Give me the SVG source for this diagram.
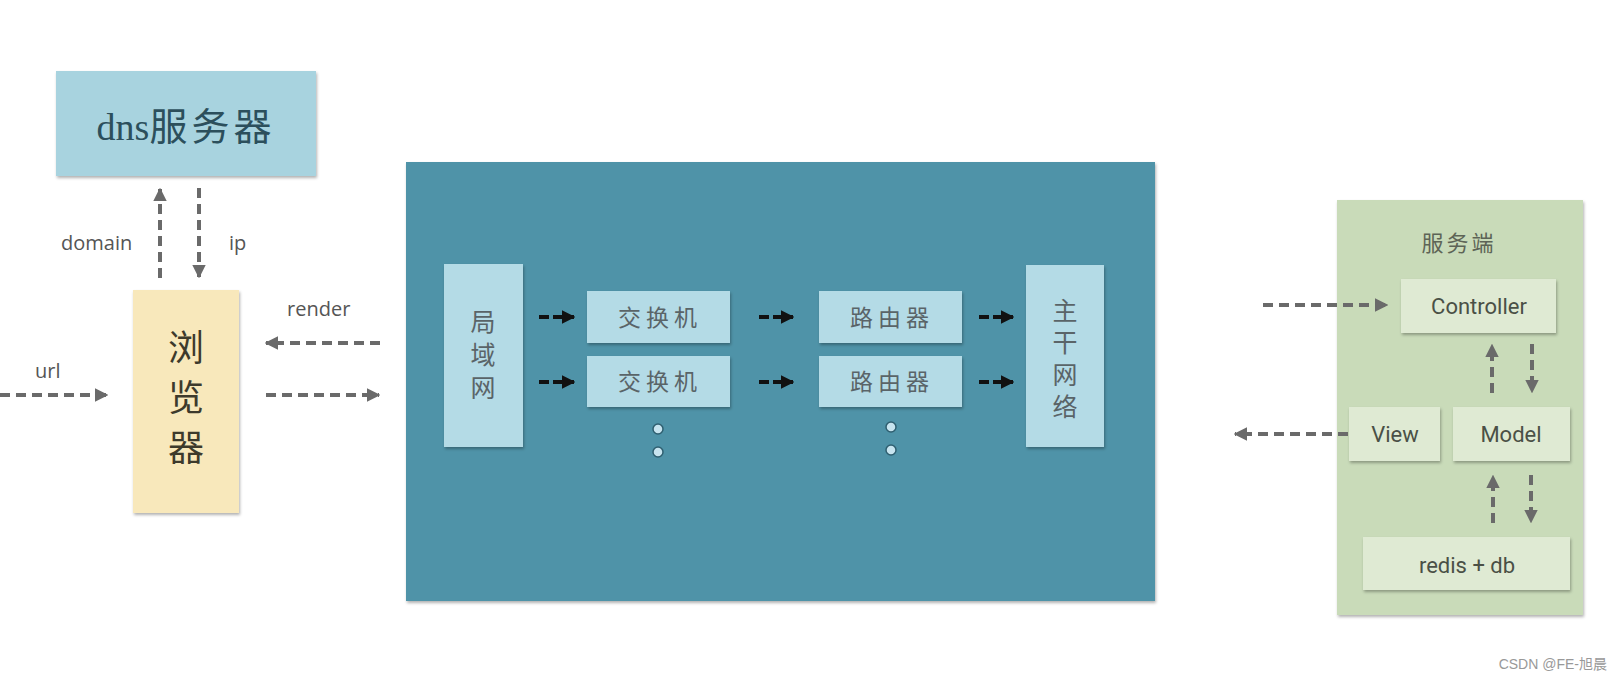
<svg xmlns="http://www.w3.org/2000/svg" width="1622" height="680" viewBox="0 0 1622 680">
<defs>
<filter id="sh" x="-10%" y="-10%" width="130%" height="130%">
<feDropShadow dx="1" dy="2" stdDeviation="1.5" flood-color="#000" flood-opacity="0.3"/>
</filter>
<marker id="ga" viewBox="0 0 10 10" refX="9" refY="5" markerWidth="3.4" markerHeight="3.4" orient="auto" markerUnits="strokeWidth">
<path d="M0,0 L10,5 L0,10 Z" fill="#6a6a6a"/>
</marker>
<marker id="ka" viewBox="0 0 10 10" refX="9" refY="5" markerWidth="3.4" markerHeight="3.4" orient="auto" markerUnits="strokeWidth">
<path d="M0,0 L10,5 L0,10 Z" fill="#111"/>
</marker>
</defs>
<style>
.g{stroke:#6a6a6a;stroke-width:4;fill:none;stroke-dasharray:10 6;marker-end:url(#ga)}
.k{stroke:#111;stroke-width:4;fill:none}
.ka{stroke:#111;stroke-width:4;fill:none;marker-end:url(#ka)}
.lbl{font-family:"Open Sans","Liberation Sans",sans-serif;font-size:20px;fill:#555}
.cn{font-family:"Noto Sans CJK SC",sans-serif;fill:#5a6468}
.vt{writing-mode:vertical-rl;text-anchor:middle}
.pb{fill:#b4dbe6}
.gb{fill:#dfead3}
.en{font-family:"Roboto","Liberation Sans",sans-serif;font-size:22px;fill:#4a5046}
.dot{fill:#c7e4ef;stroke:#2f5f70;stroke-width:1.5}
</style>
<rect width="1622" height="680" fill="#ffffff"/>

<g id="dns">
<rect x="56" y="71" width="260" height="105" fill="#a8d3df" filter="url(#sh)"/>
<text x="186" y="140" text-anchor="middle" font-size="38" fill="#2c4f5c"><tspan font-family="Liberation Serif,serif">dns</tspan><tspan font-family="Noto Sans CJK SC,sans-serif" letter-spacing="4">服务器</tspan></text>
</g>

<g id="browser">
<rect x="133" y="290" width="106" height="223" fill="#f8e8bb" filter="url(#sh)"/>
<text class="cn vt" x="186" y="404" font-size="36" letter-spacing="14" style="fill:#3d3a2c">浏览器</text>
</g>

<g id="network">
<rect x="406" y="162" width="749" height="439" fill="#4f93a8" filter="url(#sh)"/>
</g>

<g id="lan">
<rect x="444" y="264" width="79" height="183" class="pb" filter="url(#sh)"/>
<text class="cn vt" x="483" y="358" font-size="25" letter-spacing="8">局域网</text>
</g>

<g id="switch1">
<rect x="587" y="291" width="143" height="52" class="pb" filter="url(#sh)"/>
<text class="cn" x="660" y="326" font-size="23" text-anchor="middle" letter-spacing="5">交换机</text>
</g>
<g id="switch2">
<rect x="587" y="356" width="143" height="51" class="pb" filter="url(#sh)"/>
<text class="cn" x="660" y="390" font-size="23" text-anchor="middle" letter-spacing="5">交换机</text>
</g>

<g id="router1">
<rect x="819" y="291" width="143" height="52" class="pb" filter="url(#sh)"/>
<text class="cn" x="892" y="326" font-size="23" text-anchor="middle" letter-spacing="5">路由器</text>
</g>
<g id="router2">
<rect x="819" y="356" width="143" height="51" class="pb" filter="url(#sh)"/>
<text class="cn" x="892" y="390" font-size="23" text-anchor="middle" letter-spacing="5">路由器</text>
</g>

<g id="backbone">
<rect x="1026" y="265" width="78" height="182" class="pb" filter="url(#sh)"/>
<text class="cn vt" x="1065" y="362" font-size="25" letter-spacing="7">主干网络</text>
</g>

<g id="dots">
<circle class="dot" cx="658" cy="429" r="5"/>
<circle class="dot" cx="658" cy="452" r="5"/>
<circle class="dot" cx="891" cy="427" r="5"/>
<circle class="dot" cx="891" cy="450" r="5"/>
</g>

<g id="server">
<rect x="1337" y="200" width="246" height="415" fill="#c9dbb9" filter="url(#sh)"/>
<text class="cn" x="1459" y="251" font-size="22" text-anchor="middle" letter-spacing="3" style="fill:#5d6456">服务端</text>
</g>
<g id="controller">
<rect x="1401" y="279" width="155" height="54" class="gb" filter="url(#sh)"/>
<text class="en" x="1479" y="314" text-anchor="middle">Controller</text>
</g>
<g id="view">
<rect x="1349" y="407" width="91" height="54" class="gb" filter="url(#sh)"/>
<text class="en" x="1395" y="442" text-anchor="middle">View</text>
</g>
<g id="model">
<rect x="1453" y="407" width="117" height="54" class="gb" filter="url(#sh)"/>
<text class="en" x="1511" y="442" text-anchor="middle">Model</text>
</g>
<g id="redis">
<rect x="1363" y="537" width="207" height="53" class="gb" filter="url(#sh)"/>
<text class="en" x="1467" y="573" text-anchor="middle">redis + db</text>
</g>

<g id="connectors">
<line class="g" x1="160" y1="278" x2="160" y2="189"/>
<line class="g" x1="199" y1="188" x2="199" y2="277"/>
<line class="g" x1="380" y1="343" x2="266" y2="343"/>
<line class="g" x1="0" y1="395" x2="107" y2="395"/>
<line class="g" x1="266" y1="395" x2="379" y2="395"/>
<line class="g" x1="1263" y1="305" x2="1387" y2="305"/>
<line class="g" x1="1348" y1="434" x2="1235" y2="434"/>
<line class="g" x1="1492" y1="393" x2="1492" y2="345"/>
<line class="g" x1="1532" y1="344" x2="1532" y2="392"/>
<line class="g" x1="1493" y1="523" x2="1493" y2="476"/>
<line class="g" x1="1531" y1="475" x2="1531" y2="522"/>

<line class="k" x1="539" y1="317" x2="549" y2="317"/><line class="ka" x1="553" y1="317" x2="574" y2="317"/>
<line class="k" x1="539" y1="382" x2="549" y2="382"/><line class="ka" x1="553" y1="382" x2="574" y2="382"/>
<line class="k" x1="759" y1="317" x2="769" y2="317"/><line class="ka" x1="773" y1="317" x2="793" y2="317"/>
<line class="k" x1="759" y1="382" x2="769" y2="382"/><line class="ka" x1="773" y1="382" x2="793" y2="382"/>
<line class="k" x1="979" y1="317" x2="989" y2="317"/><line class="ka" x1="993" y1="317" x2="1013" y2="317"/>
<line class="k" x1="979" y1="382" x2="989" y2="382"/><line class="ka" x1="993" y1="382" x2="1013" y2="382"/>
</g>

<g id="labels">
<text class="lbl" x="61" y="250">domain</text>
<text class="lbl" x="229" y="250">ip</text>
<text class="lbl" x="287" y="316">render</text>
<text class="lbl" x="35" y="378">url</text>
</g>

<text x="1607" y="669" text-anchor="end" font-family="Liberation Sans,Noto Sans CJK SC,sans-serif" font-size="14" fill="#999">CSDN @FE-旭晨</text>
</svg>
